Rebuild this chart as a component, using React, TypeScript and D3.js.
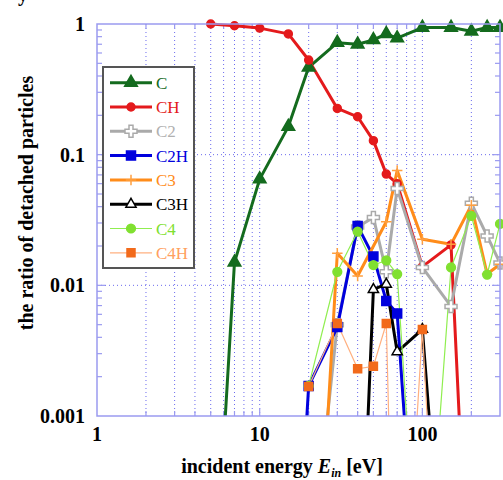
import React, { useRef, useEffect } from "react";
import * as d3 from "d3";

// incident energies (eV) shared by all series; null = no point
const energies = [5, 6, 7, 10, 15, 20, 30, 40, 50, 60, 70, 100, 150, 200, 250, 300];

const valC = [null, 0.0006, 0.015, 0.065, 0.164, 0.466, 0.72, 0.7, 0.755, 0.84, 0.78, 0.94, 0.94, 0.88, 0.94, 0.94];
const valCH = [1.0, null, 0.97, 0.93, 0.84, 0.53, 0.226, 0.195, 0.128, 0.071, 0.06, 0.0139, 0.0204, 0.000011, null, null];
const valC2 = [null, null, null, null, null, 0.000045, 0.005, 0.028, 0.033, 0.0127, 0.055, 0.0137, 0.0069, 0.0425, 0.0239, 0.0148];
const valC2H = [null, null, null, null, 0.000004, 0.0017, 0.0048, 0.0285, 0.0166, 0.0076, 0.0061, 0.00001, null, null, null, null];
const valC3 = [null, null, null, null, null, 0.000003, 0.0176, 0.0118, null, 0.0307, 0.0755, 0.0225, 0.0206, 0.041, 0.0122, 0.0145];
const valC3H = [null, null, null, null, null, null, null, 0.000013, 0.0093, 0.0102, 0.0031, 0.0046, 0.000007, null, null, null];
const valC4 = [null, null, null, null, null, 0.0017, 0.0127, 0.0258, 0.0143, 0.0155, 0.0122, 0.000015, 0.0137, 0.034, 0.0121, 0.0295];
const valC4H = [null, null, null, null, null, 0.00168, 0.0051, 0.0023, 0.0024, 0.0051, 0.000003, 0.0046, 0.0000004, null, null, null];

const yTicks = [1, 0.1, 0.01, 0.001];
const yTickLabels = ["1", "0.1", "0.01", "0.001"];
const xTicks = [1, 10, 100];
const xTickLabels = ["1", "10", "100"];

// thin "+" marker
const thinPlus = {
  draw(context, size) {
    const r = Math.sqrt(size) / 2;
    context.moveTo(-r, 0);
    context.lineTo(r, 0);
    context.moveTo(0, -r);
    context.lineTo(0, r);
  },
};

const series = [
  { name: "C", values: valC, line: "#146b1e", width: 3, symbol: d3.symbolTriangle, size: 70, fill: "#146b1e", stroke: "#146b1e", text: "#146b1e" },
  { name: "CH", values: valCH, line: "#e41a1c", width: 3, symbol: d3.symbolCircle, size: 50, fill: "#e41a1c", stroke: "#e41a1c", text: "#e41a1c" },
  { name: "C2", values: valC2, line: "#aaaaaa", width: 3, symbol: d3.symbolCross, size: 80, fill: "#ffffff", stroke: "#aaaaaa", text: "#b0b0b0" },
  { name: "C2H", values: valC2H, line: "#0000dd", width: 3, symbol: d3.symbolSquare, size: 81, fill: "#0000dd", stroke: "#0000dd", text: "#0000dd" },
  { name: "C3", values: valC3, line: "#ff8c1a", width: 3, symbol: thinPlus, size: 110, fill: "none", stroke: "#ffa040", text: "#ff8c1a" },
  { name: "C3H", values: valC3H, line: "#000000", width: 3, symbol: d3.symbolTriangle, size: 45, fill: "#ffffff", stroke: "#000000", text: "#000000" },
  { name: "C4", values: valC4, line: "#90ee50", width: 1.2, symbol: d3.symbolCircle, size: 60, fill: "#80e030", stroke: "#80e030", text: "#80e030" },
  { name: "C4H", values: valC4H, line: "#ffb080", width: 1.2, symbol: d3.symbolSquare, size: 64, fill: "#f26a1b", stroke: "#f26a1b", text: "#ffa060" },
];

const App = () => {
  const svgRef = useRef(null);

  useEffect(() => {
    const svg = d3.select(svgRef.current);
    svg.selectAll("*").remove();

    const left = 97, right = 500, top = 24, bottom = 416;
    const font = "'Liberation Serif', 'Times New Roman', serif";
    const frameColor = "#9a9af0";

    const x = d3.scaleLog().domain([1, 300]).range([left, right]);
    const y = d3.scaleLog().domain([0.001, 1]).range([bottom, top]);

    svg.append("defs").append("clipPath").attr("id", "plot-clip")
      .append("rect").attr("x", left).attr("y", top - 10).attr("width", right - left).attr("height", bottom - top + 10);

    // minor values for x and y
    const xMinor = [];
    for (let d = 1; d <= 100; d *= 10) for (let k = 1; k <= 9; k++) if (d * k > 1 && d * k < 300) xMinor.push(d * k);
    const yMinor = [];
    for (let d = 0.001; d < 1; d *= 10) for (let k = 1; k <= 9; k++) if (d * k > 0.001 * 1.01 && d * k < 0.99) yMinor.push(d * k);

    // grid
    const grid = svg.append("g").attr("stroke", "#6a6aee").attr("stroke-width", 1).attr("stroke-dasharray", "1 3");
    grid.selectAll("line.v").data(xMinor).join("line")
      .attr("x1", (d) => x(d)).attr("x2", (d) => x(d)).attr("y1", top).attr("y2", bottom);
    grid.selectAll("line.h").data([0.1, 0.01]).join("line")
      .attr("x1", left).attr("x2", right).attr("y1", (d) => y(d)).attr("y2", (d) => y(d));

    // ticks
    const ticks = svg.append("g").attr("stroke", frameColor).attr("stroke-width", 1.2);
    const isMajor = (v) => Math.abs(Math.log10(v) - Math.round(Math.log10(v))) < 1e-6;
    xMinor.forEach((v) => {
      const len = isMajor(v) ? 8 : 5;
      ticks.append("line").attr("x1", x(v)).attr("x2", x(v)).attr("y1", bottom).attr("y2", bottom - len);
      ticks.append("line").attr("x1", x(v)).attr("x2", x(v)).attr("y1", top).attr("y2", top + len);
    });
    yMinor.forEach((v) => {
      const len = isMajor(v) ? 8 : 5;
      ticks.append("line").attr("x1", left).attr("x2", left + len).attr("y1", y(v)).attr("y2", y(v));
      ticks.append("line").attr("x1", right).attr("x2", right - len).attr("y1", y(v)).attr("y2", y(v));
    });

    // lines
    const lineGen = d3.line().x((d) => x(d[0])).y((d) => y(d[1]));
    const plot = svg.append("g").attr("clip-path", "url(#plot-clip)");
    series.forEach((s) => {
      const pts = energies.map((e, i) => [e, s.values[i]]).filter((p) => p[1] != null);
      plot.append("path").datum(pts)
        .attr("fill", "none").attr("stroke", s.line).attr("stroke-width", s.width)
        .attr("stroke-linejoin", "round").attr("d", lineGen);
    });

    // markers (only points inside the range)
    series.forEach((s) => {
      const pts = energies.map((e, i) => [e, s.values[i]]).filter((p) => p[1] != null && p[1] >= 0.001);
      svg.append("g").selectAll("path").data(pts).join("path")
        .attr("transform", (d) => `translate(${x(d[0])},${y(d[1])})`)
        .attr("d", d3.symbol().type(s.symbol).size(s.size))
        .attr("fill", s.fill).attr("stroke", s.stroke).attr("stroke-width", 1.5);
    });

    // frame
    svg.append("rect").attr("x", left).attr("y", top).attr("width", right - left).attr("height", bottom - top)
      .attr("fill", "none").attr("stroke", frameColor).attr("stroke-width", 1.5);

    // tick labels
    svg.append("g").selectAll("text").data(yTicks).join("text")
      .attr("x", 85).attr("y", (d) => y(d) + 7).attr("text-anchor", "end")
      .attr("font-family", font).attr("font-weight", "bold").attr("font-size", 20)
      .text((d, i) => yTickLabels[i]);
    svg.append("g").selectAll("text").data(xTicks).join("text")
      .attr("x", (d) => x(d)).attr("y", 441).attr("text-anchor", "middle")
      .attr("font-family", font).attr("font-weight", "bold").attr("font-size", 20)
      .text((d, i) => xTickLabels[i]);

    // axis titles
    svg.append("text")
      .attr("transform", `translate(33,203) rotate(-90)`)
      .attr("text-anchor", "middle")
      .attr("font-family", font).attr("font-weight", "bold").attr("font-size", 20)
      .text("the ratio of detached particles");
    const xt = svg.append("text").attr("x", 282).attr("y", 473).attr("text-anchor", "middle")
      .attr("font-family", font).attr("font-weight", "bold").attr("font-size", 20);
    xt.append("tspan").text("incident energy ");
    xt.append("tspan").attr("font-style", "italic").text("E");
    xt.append("tspan").attr("font-style", "italic").attr("font-size", 12).attr("dy", 4).text("in");
    xt.append("tspan").attr("dy", -4).text(" [eV]");

    // cut-off glyph at the very top
    svg.append("text").attr("x", 18).attr("y", 1).attr("font-family", font).attr("font-weight", "bold")
      .attr("font-size", 20).text("y");

    // legend
    const lg = svg.append("g");
    lg.append("rect").attr("x", 103).attr("y", 67).attr("width", 91).attr("height", 201)
      .attr("fill", "#ffffff").attr("stroke", "#555555").attr("stroke-width", 2);
    series.forEach((s, i) => {
      const ly = 82.7 + i * 24.3;
      lg.append("line").attr("x1", 110).attr("x2", 152).attr("y1", ly).attr("y2", ly)
        .attr("stroke", s.line).attr("stroke-width", s.width);
      lg.append("path").attr("transform", `translate(131,${ly})`)
        .attr("d", d3.symbol().type(s.symbol).size(s.size))
        .attr("fill", s.fill).attr("stroke", s.stroke).attr("stroke-width", 1.5);
      lg.append("text").attr("x", 156).attr("y", ly + 6)
        .attr("font-family", font).attr("font-size", 17).attr("fill", s.text)
        .text(s.name);
    });
  }, []);

  return (
    <svg ref={svgRef} width={503} height={480}
      style={{ position: "absolute", left: 0, top: 0, background: "#ffffff" }}></svg>
  );
};

export default App;
